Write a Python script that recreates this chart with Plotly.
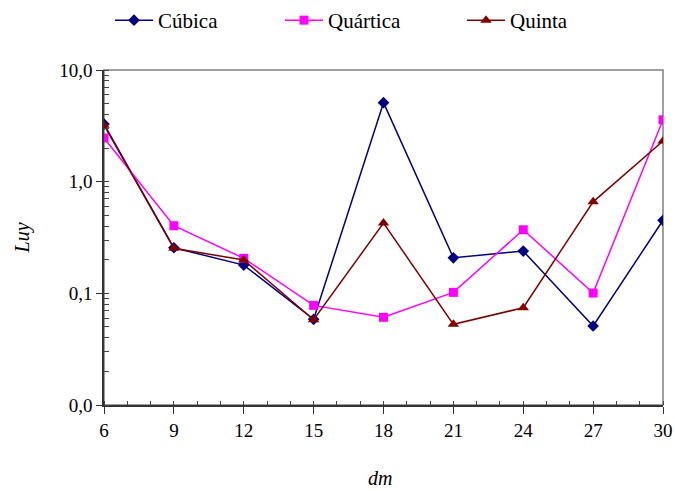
import plotly.graph_objects as go

dm = [6, 9, 12, 15, 18, 21, 24, 27, 30]
cubica = [3.28, 0.256, 0.179, 0.0585, 5.1, 0.208, 0.239, 0.051, 0.451]
quartica = [2.46, 0.403, 0.206, 0.078, 0.061, 0.102, 0.371, 0.1006, 3.58]
quinta = [3.2, 0.253, 0.199, 0.058, 0.426, 0.0528, 0.0743, 0.66, 2.31]

y_tick_default = ["0.01", "0.1", "1", "10"]
y_ticktext = ["0,0", "0,1", "1,0", "10,0"]

FONT = "Liberation Serif, Times New Roman, serif"

fig = go.Figure()
fig.add_trace(go.Scatter(x=dm, y=cubica, name="Cúbica", mode="lines+markers",
                         line=dict(color="#000080", width=1.5), legend="legend",
                         marker=dict(symbol="diamond", size=9, color="#000080")))
fig.add_trace(go.Scatter(x=dm, y=quartica, name="Quártica", mode="lines+markers",
                         line=dict(color="#FF00FF", width=1.5), legend="legend2",
                         marker=dict(symbol="square", size=9, color="#FF00FF")))
fig.add_trace(go.Scatter(x=dm, y=quinta, name="Quinta", mode="lines+markers",
                         line=dict(color="#800000", width=1.5), legend="legend3",
                         marker=dict(symbol="triangle-up", size=10, color="#800000")))

def leg(xpx):
    return dict(x=xpx / 675, xanchor="left", xref="container",
                y=1, yanchor="top", yref="container",
                font=dict(family=FONT, size=21), bgcolor="rgba(0,0,0,0)",
                itemwidth=38)

fig.update_layout(
    width=675, height=491,
    margin=dict(l=104, r=12, t=70, b=86, autoexpand=False),
    paper_bgcolor="white", plot_bgcolor="white",
    font=dict(family=FONT, size=18, color="black"),
    showlegend=True,
    legend=leg(110), legend2=leg(280), legend3=leg(462),
    shapes=[dict(type="rect", xref="paper", yref="paper", x0=0, x1=1, y0=0, y1=1,
                 line=dict(color="#808080", width=1.5), layer="below")],
    annotations=[
        dict(text="<i>Luy</i>", xref="paper", yref="paper", x=-0.145, y=0.5,
             textangle=-90, showarrow=False, font=dict(family=FONT, size=20),
             xanchor="center", yanchor="middle"),
        dict(text="<i>dm</i>", xref="paper", yref="paper", x=0.494, y=-0.218,
             showarrow=False, font=dict(family=FONT, size=20),
             xanchor="center", yanchor="middle"),
    ],
)

fig.update_xaxes(
    range=[6, 30], tickmode="linear", tick0=6, dtick=3,
    ticks="outside", ticklen=7, tickcolor="#333",
    showline=True, linecolor="#333", linewidth=1.5, showgrid=False, zeroline=False,
    tickfont=dict(family=FONT, size=19), automargin=False,
    minor=dict(dtick=1, tick0=6, ticks="inside", ticklen=4,
               tickcolor="#444", showgrid=False),
)
fig.update_yaxes(
    type="log", range=[-2, 1], tickmode="linear", tick0=0, dtick=1,
    labelalias=dict(zip(y_tick_default, y_ticktext)),
    ticks="outside", ticklen=6, tickcolor="#333", automargin=False,
    showline=True, linecolor="#333", linewidth=1.5, showgrid=False, zeroline=False,
    tickfont=dict(family=FONT, size=19),
    minor=dict(ticks="inside", ticklen=5, tickcolor="#444", showgrid=False),
)

fig.write_html("out.html", config={"displayModeBar": False},
               post_script="document.body.style.margin='0';")
